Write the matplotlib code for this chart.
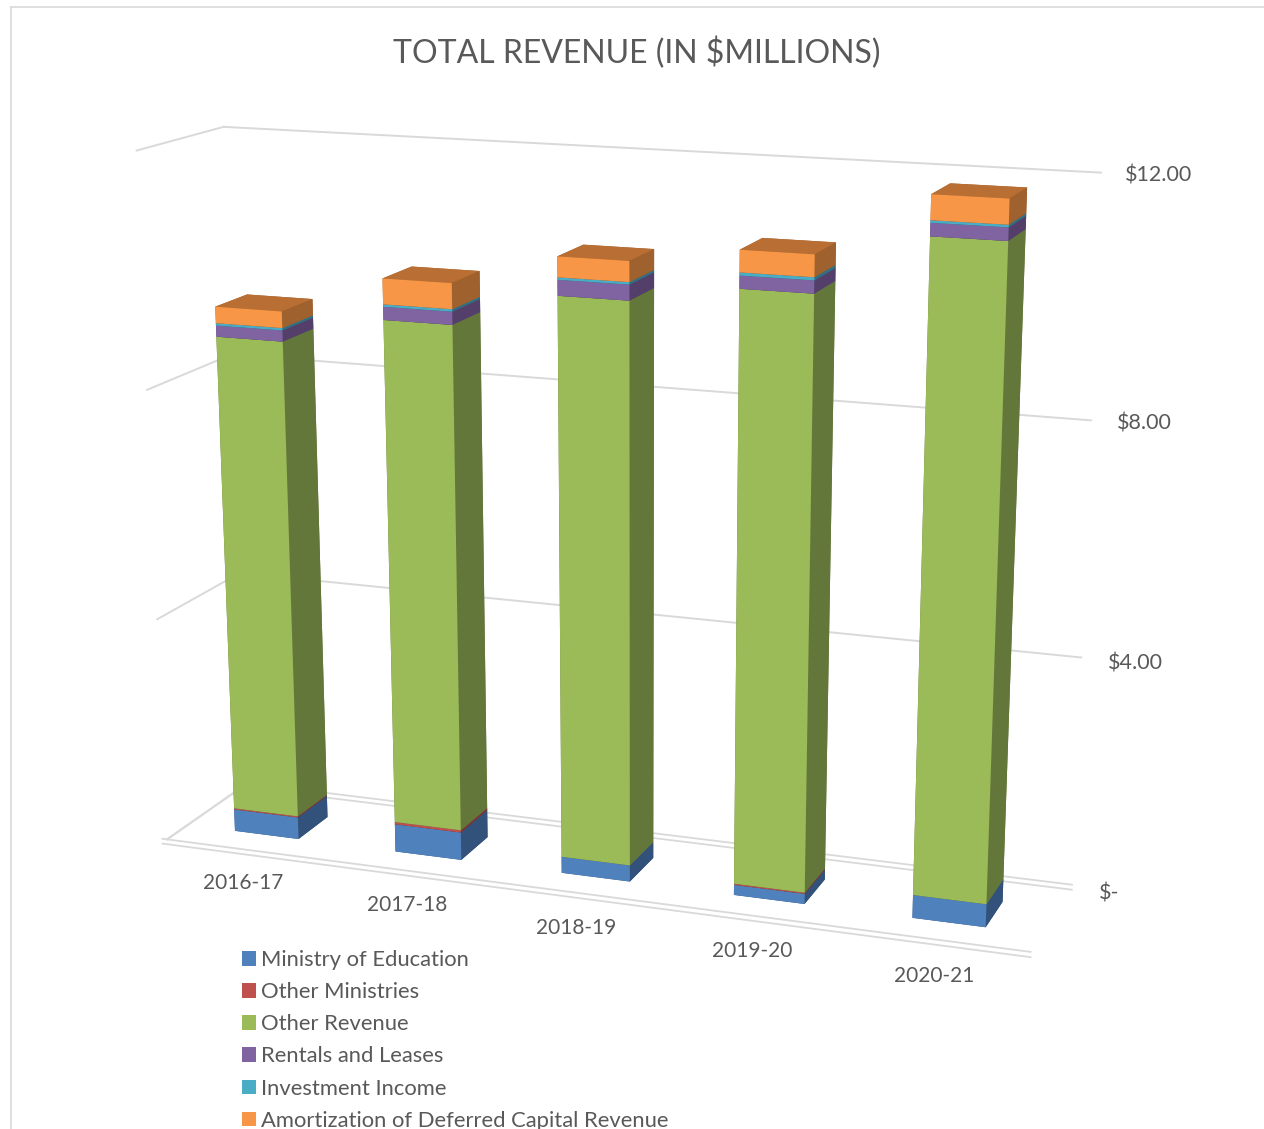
import numpy as np
import matplotlib
matplotlib.use("Agg")
import matplotlib.pyplot as plt
from matplotlib.lines import Line2D
from matplotlib.patches import Patch

plt.rcParams['font.family'] = ['Lato', 'DejaVu Sans']

# values
years = ["2016-17", "2017-18", "2018-19", "2019-20", "2020-21"]
ministry = [0.40, 0.50, 0.29, 0.18, 0.40]
other_ministries = [0.02, 0.04, 0.00, 0.02, 0.00]
other_revenue = [8.40, 8.77, 9.62, 10.02, 10.83]
rentals = [0.19, 0.22, 0.26, 0.21, 0.21]
investment = [0.04, 0.04, 0.04, 0.05, 0.04]
amortization = [0.28, 0.43, 0.34, 0.36, 0.40]

series_names = ["Ministry of Education", "Other Ministries", "Other Revenue",
                "Rentals and Leases", "Investment Income",
                "Amortization of Deferred Capital Revenue"]
series_values = [ministry, other_ministries, other_revenue, rentals, investment, amortization]
front_colors = ["#4F81BD", "#C0504D", "#9BBB59", "#8064A2", "#4BACC6", "#F79646"]
side_colors = ["#33527B", "#7C3432", "#64773A", "#533F6A", "#307082", "#9F612D"]
top_colors = ["#3E6696", "#98403D", "#7C9547", "#655081", "#3B899E", "#B96F34"]

tick_values = [0, 4, 8, 12]
tick_labels = ["$-", "$4.00", "$8.00", "$12.00"]

W, H = 1264, 1129
GRID = "#D9D9D9"
TEXT = "#595959"

fig = plt.figure(figsize=(W / 100, H / 100), dpi=100)
ax = fig.add_axes([0, 0, 1, 1], projection='3d', computed_zorder=False)
ax.set_axis_off()
for axis in (ax.xaxis, ax.yaxis, ax.zaxis):
    axis.set_visible(False)
ax.apply_aspect()

# camera fitted on the box corners (category, depth, value) -> picture pixel
box_anchors = [
    ((0, 0, 0), (168, 839)), ((5, 0, 0), (1030, 950)),
    ((0, 1, 0), (247, 782)), ((5, 1, 0), (1072, 885)),
    ((0, 1, 12), (220, 125)), ((5, 1, 12), (1100, 170)),
    ((0, 0, 12), (135, 150)), ((0, 0, 8), (145, 388)),
    ((0, 0, 4), (153, 620)), ((5, 1, 8), (1090, 420)),
    ((5, 1, 4), (1081, 660)),
]
# corners of some bars, counted twice so the bars sit well
bar_anchors = [
    ((0.30, 0.25, 0), (235, 830)), ((0.30, 0.25, 9.33), (218, 308)),
    ((0.70, 0.63, 9.33), (316, 301)),
    ((2.30, 0.25, 0), (561, 873)), ((2.30, 0.25, 10.55), (558, 257)),
    ((4.70, 0.25, 0), (987, 928)), ((4.70, 0.25, 11.88), (1009, 198)),
]
rows = []
for (x, y, z), (u, v) in box_anchors + bar_anchors * 2:
    u, v = u / 1000, v / 1000
    rows.append([x, y, z, 1, 0, 0, 0, 0, -u * x, -u * y, -u * z, -u])
    rows.append([0, 0, 0, 0, x, y, z, 1, -v * x, -v * y, -v * z, -v])
P = np.linalg.svd(np.array(rows))[2][-1].reshape(3, 4)
if P[2, 3] < 0:
    P = -P

# pixels (top origin) -> the 2d limits of the 3d axes
to_pix = np.array([[1000, 0, 0], [0, -1000, H], [0, 0, 1]], dtype=float)
P = ax.transData.inverted().get_matrix() @ to_pix @ P
# depth row: stays negative and grows away from the camera
depth = np.array([0, 0, 0, -P[2, 3]])
M = np.vstack([P[0], P[1], depth, P[2]])
ax.get_proj = lambda: M

# walls and floor
for t in tick_values[1:]:
    ax.plot([0, 0], [0, 1], [t, t], color=GRID, lw=1.4, zorder=0)
    ax.plot([0, 5], [1, 1], [t, t], color=GRID, lw=1.4, zorder=0)
ax.plot([0, 0], [0, 1], [0, 0], color=GRID, lw=1.6, zorder=0)
for z0 in [0, -0.09]:
    ax.plot([0, 5], [1, 1], [z0, z0], color=GRID, lw=1.3, zorder=0)
    ax.plot([-0.03, 5], [0, 0], [z0, z0], color=GRID, lw=1.3, zorder=0)

# bars
bar_x = np.arange(len(years)) + 0.30
bar_w = 0.40
bar_y = 0.25
bar_d = 0.38
bottoms = np.zeros(len(years))
for vals, fc, sc, tc in zip(series_values, front_colors, side_colors, top_colors):
    vals = np.array(vals)
    for i in range(len(years)):
        if vals[i] == 0:
            continue
        # faces: bottom, top, front, back, left, right
        ax.bar3d(bar_x[i], bar_y, bottoms[i], bar_w, bar_d, vals[i],
                 color=[sc, tc, fc, sc, sc, sc], shade=False, linewidth=0, zorder=1)
    bottoms += vals

# labels
for i, lab in enumerate(years):
    ax.text(i * 1.005 + 0.47, 0, -0.63, lab, color=TEXT, fontsize=15, ha='center', va='center')
tick_x = [5.15, 5.145, 5.14, 5.125]
tick_dz = [-0.09, -0.06, -0.02, -0.02]
for t, lab, tx, dz in zip(tick_values, tick_labels, tick_x, tick_dz):
    ax.text(tx, 1, t + dz, lab, color=TEXT, fontsize=15.5, ha='left', va='center')

fig.text(637 / W, 1 - 53 / H, "TOTAL REVENUE (IN $MILLIONS)", color=TEXT, fontsize=23,
         ha='center', va='center')

handles = [Patch(facecolor=c, edgecolor='none') for c in front_colors]
fig.legend(handles, series_names, loc='upper left', bbox_to_anchor=(242 / W, 1 - 950 / H),
           frameon=False, fontsize=15.85, labelcolor=TEXT, borderpad=0, borderaxespad=0,
           handlelength=0.636, handleheight=0.636, handletextpad=0.23, labelspacing=0.552)

# chart frame
fig.add_artist(Line2D([11 / W, 11 / W], [0, 1 - 7 / H], color=GRID, lw=1.2))
fig.add_artist(Line2D([11 / W, 1], [1 - 7 / H, 1 - 7 / H], color=GRID, lw=1.2))

fig.savefig("out.png", dpi=100)
